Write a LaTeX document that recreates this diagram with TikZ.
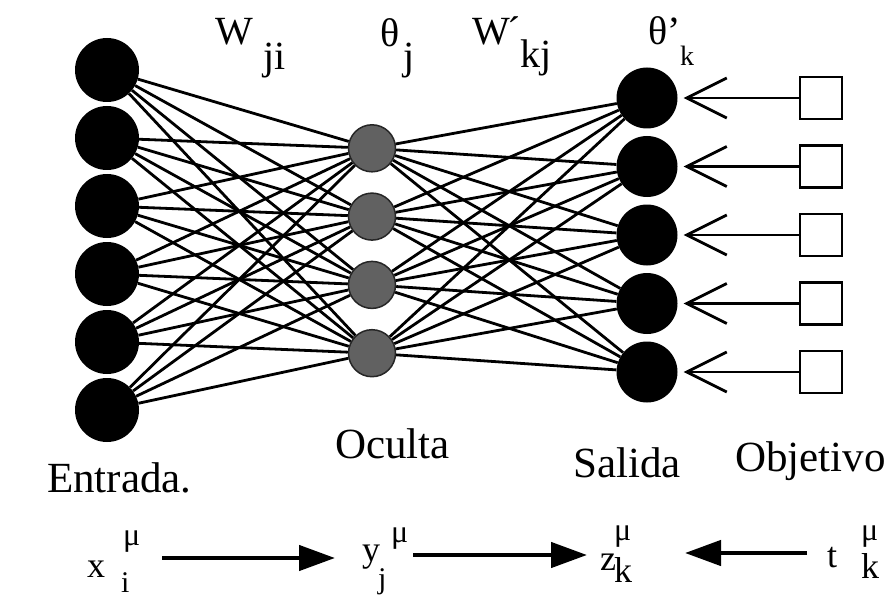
\documentclass[tikz,border=0pt]{standalone}
\usepackage{fontspec}
\setmainfont{Liberation Serif}
\usetikzlibrary{arrows.meta}

\begin{document}
\begin{tikzpicture}[
  x=1pt, y=-1pt,
  inunit/.style={circle, fill=black, minimum size=64pt, inner sep=0pt},
  hidunit/.style={circle, fill=black!62, draw=black!85, line width=1.5pt,
                  minimum size=47pt, inner sep=0pt},
  outunit/.style={circle, fill=black, minimum size=61pt, inner sep=0pt},
  target/.style={draw, line width=2.6pt, minimum size=42pt, inner sep=0pt, fill=white},
  link/.style={line width=2.8pt},
  barb/.style={-{Straight Barb[length=40pt, width=40pt]}, line width=2.8pt,
               shorten >=6pt},
  fat/.style={-{Triangle[length=36pt, width=25pt]}, line width=4.5pt},
  word/.style={font=\fontsize{43}{43}\selectfont, anchor=base west, inner sep=0pt},
  toplbl/.style={font=\fontsize{40}{40}\selectfont, anchor=base west, inner sep=0pt},
  sublbl/.style={font=\fontsize{28}{28}\selectfont, anchor=base west, inner sep=0pt},
  sym/.style={font=\fontsize{36}{36}\selectfont, anchor=base west, inner sep=0pt},
  lowsym/.style={font=\fontsize{30}{30}\selectfont, anchor=base west, inner sep=0pt},
  supl/.style={font=\fontsize{32}{32}\selectfont, anchor=base west, inner sep=0pt},
]
\useasboundingbox (0,0) rectangle (893,596);

% layers
\foreach \i in {1,...,6}
  \node[inunit] (in\i) at (107, 2+68*\i) {};
\foreach \j in {1,...,4}
  \node[hidunit] (hid\j) at (372, 80+68.3*\j) {};
\foreach \k in {1,...,5} {
  \node[outunit] (out\k) at (647, 29.5+68.5*\k) {};
  \node[target] (tgt\k) at (821, 29.5+68.5*\k) {};
}

% weights
\foreach \i in {1,...,6}
  \foreach \j in {1,...,4}
    \draw[link] (in\i) -- (hid\j);
\foreach \j in {1,...,4}
  \foreach \k in {1,...,5}
    \draw[link] (hid\j) -- (out\k);
\foreach \k in {1,...,5}
  \draw[barb] (tgt\k) -- (out\k);

% top labels
\node[toplbl] (wji) at (215,45) {W};
\node[toplbl] (wjisub) at (263,70) {ji};
\node[toplbl] (thj) at (380,47) {θ};
\node[toplbl] (thjsub) at (403,70) {j};
\node[toplbl] (wkj) at (472,45) {W};
\node[toplbl] (wkjacc) at (507,45) {´};
\node[toplbl] (wkjsub) at (520,68) {kj};
\node[toplbl] (thk) at (648,45) {θ'};
\node[sublbl] (thksub) at (680,66) {k};

% layer names
\node[word] (entrada) at (47,492) {Entrada.};
\node[word] (oculta) at (335,458) {Oculta};
\node[word] (salida) at (573,477) {Salida};
\node[word] (objetivo) at (735,471) {Objetivo};

% signals
\node[sym] (xb) at (87,577) {x};
\node[supl] (xsup) at (123,545) {μ};
\node[lowsym] (xsub) at (121,592) {i};
\node[sym] (yb) at (362,561) {y};
\node[supl] (ysup) at (391,542) {μ};
\node[lowsym] (ysub) at (378,588) {j};
\node[sym] (zb) at (600,570) {z};
\node[supl] (zsup) at (614,540) {μ};
\node[sym] (zsub) at (614,582) {k};
\node[sym] (tb) at (827,567) {t};
\node[supl] (tsup) at (861,540) {μ};
\node[sym] (tsub) at (861,578) {k};

\draw[fat] ([shift={(75pt,19pt)}]xb.base west) -- ([shift={(-27pt,3pt)}]yb.base west);
\draw[fat] ([shift={(51pt,6pt)}]yb.base west) -- ([shift={(-13pt,15pt)}]zb.base west);
\draw[fat] ([shift={(-20pt,14pt)}]tb.base west) -- ([shift={(85pt,17pt)}]zb.base west);
\end{tikzpicture}
\end{document}
